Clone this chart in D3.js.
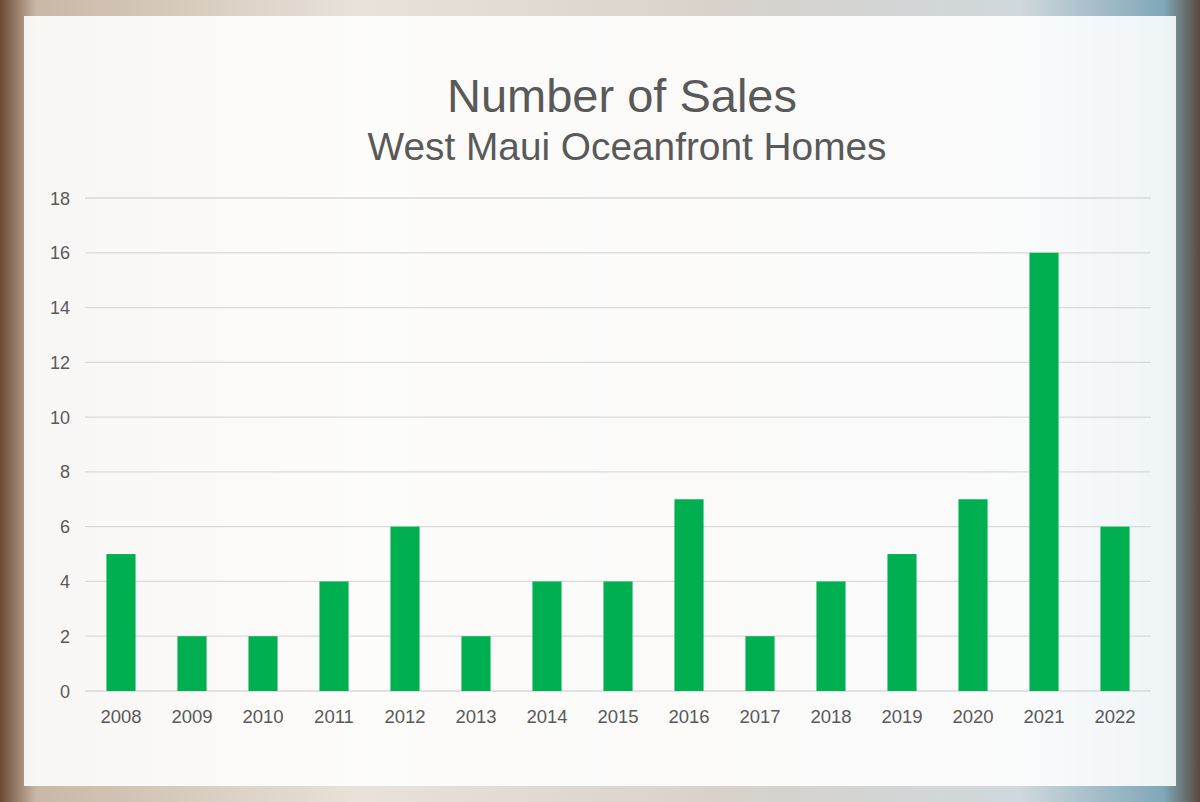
<!DOCTYPE html>
<html><head><meta charset="utf-8">
<script src="https://cdn.jsdelivr.net/npm/d3@7"></script>
<style>body{margin:0;}svg{display:block;}</style></head>
<body><svg id="c" width="1200" height="802"></svg>
<script>
const years=["2008","2009","2010","2011","2012","2013","2014","2015","2016","2017","2018","2019","2020","2021","2022"];
const sales=[5,2,2,4,6,2,4,4,7,2,4,5,7,16,6];
const yTicks=[0,2,4,6,8,10,12,14,16,18];
const title="Number of Sales", subtitle="West Maui Oceanfront Homes";

const svg=d3.select("#c");
const defs=svg.append("defs");
const g=defs.append("linearGradient").attr("id","bg").attr("x1",0).attr("x2",1).attr("y1",0).attr("y2",0);
[[0,"#6b4a34"],[0.03,"#c9b8a6"],[0.3,"#e8e2da"],[0.6,"#d8d2cb"],[0.85,"#cfd8dc"],[0.97,"#7fa7b8"],[1,"#5a4a3e"]].forEach(([o,c])=>g.append("stop").attr("offset",o).attr("stop-color",c));
svg.append("rect").attr("width",1200).attr("height",802).attr("fill","url(#bg)");
svg.append("rect").attr("x",24).attr("y",16).attr("width",1152).attr("height",770).attr("fill","#fff").attr("opacity",0.88);

const x=d3.scaleBand().domain(years).range([85.5,1150.5]).paddingInner(0.59).paddingOuter(0.295);
const y=d3.scaleLinear().domain([0,18]).range([691,198]);
const F="Liberation Sans, Arial";

svg.append("g").selectAll("line").data(yTicks).join("line")
 .attr("x1",85).attr("x2",1151).attr("y1",d=>y(d)).attr("y2",d=>y(d))
 .attr("stroke","#d9d9d9").attr("stroke-width",1.3);
svg.append("g").selectAll("text").data(yTicks).join("text")
 .attr("x",70).attr("y",d=>y(d)+6.5).attr("text-anchor","end")
 .attr("font-family",F).attr("font-size",18).attr("fill","#595959").text(d=>d);
svg.append("g").selectAll("rect").data(sales).join("rect")
 .attr("x",(d,i)=>x(years[i])).attr("width",x.bandwidth())
 .attr("y",d=>y(d)).attr("height",d=>y(0)-y(d)).attr("fill","#00b050");
svg.append("g").selectAll("text").data(years).join("text")
 .attr("x",d=>x(d)+x.bandwidth()/2).attr("y",723).attr("text-anchor","middle")
 .attr("font-family",F).attr("font-size",18.5).attr("fill","#595959").text(d=>d);
svg.append("text").attr("x",622).attr("y",112).attr("text-anchor","middle")
 .attr("font-family",F).attr("font-size",47).attr("fill","#595959").text(title);
svg.append("text").attr("x",627).attr("y",160).attr("text-anchor","middle")
 .attr("font-family",F).attr("font-size",38.8).attr("fill","#595959").text(subtitle);
</script></body></html>
